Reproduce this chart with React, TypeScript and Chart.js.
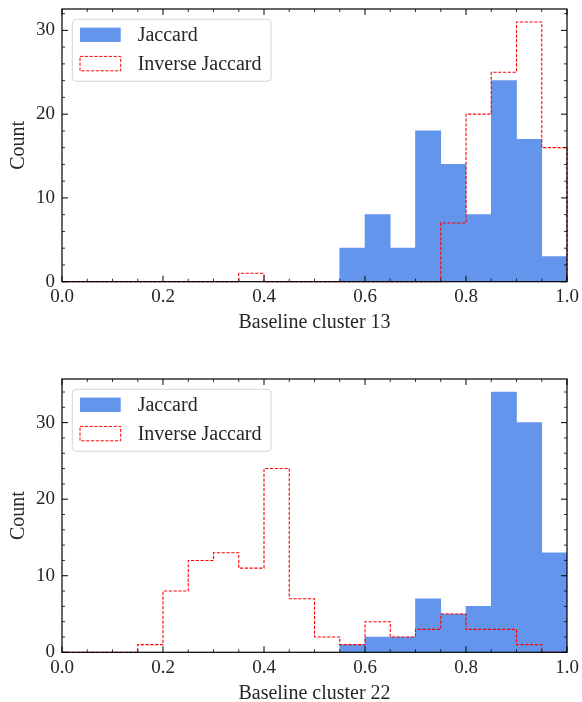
import React, { useEffect, useRef } from "react";
import { Chart, registerables } from "chart.js";

Chart.register(...registerables);

// Histogram bin edges (20 bins of width 0.05 on [0, 1])
const binEdges = [
  0.0, 0.05, 0.1, 0.15, 0.2, 0.25, 0.3, 0.35, 0.4, 0.45, 0.5,
  0.55, 0.6, 0.65, 0.7, 0.75, 0.8, 0.85, 0.9, 0.95, 1.0,
];

// Counts per bin, baseline cluster 13
const cluster13Jaccard = [0, 0, 0, 0, 0, 0, 0, 0, 0, 0, 0, 4, 8, 4, 18, 14, 8, 24, 17, 3];
const cluster13Inverse = [0, 0, 0, 0, 0, 0, 0, 1, 0, 0, 0, 0, 0, 0, 0, 7, 20, 25, 31, 16];

// Counts per bin, baseline cluster 22
const cluster22Jaccard = [0, 0, 0, 0, 0, 0, 0, 0, 0, 0, 0, 1, 2, 2, 7, 5, 6, 34, 30, 13];
const cluster22Inverse = [0, 0, 0, 1, 8, 12, 13, 11, 24, 7, 2, 1, 4, 2, 3, 5, 3, 3, 1, 0];

const seriesLabels = ["Jaccard", "Inverse Jaccard"];
const xTickStep = 0.2;
const yTickStep = 10;

const FONT = "'Liberation Serif', 'Times New Roman', serif";
const TEXT = "#262626";
const BLUE = "#6495ED";
const RED = "#ff0000";
const DASH = [3.2, 1.6];
const W = 582;
const H = 351;

// Bars sit at bin centres; the outline is a stepped line through the bin edges.
function barPoints(counts: number[]) {
  return counts.map((c, i) => ({ x: (binEdges[i] + binEdges[i + 1]) / 2, y: c }));
}
function stepPoints(counts: number[]) {
  const pts = [{ x: binEdges[0], y: 0 }];
  counts.forEach((c, i) => pts.push({ x: binEdges[i], y: c }));
  const last = binEdges[binEdges.length - 1];
  pts.push({ x: last, y: counts[counts.length - 1] });
  pts.push({ x: last, y: 0 });
  return pts;
}

// Inward ticks on all four sides, the box frame and the framed legend.
const framePlugin = {
  id: "frame",
  afterDatasetsDraw(chart: any) {
    const { ctx, chartArea: a, scales } = chart;
    const xs = scales.x;
    const ys = scales.y;
    ctx.save();
    ctx.strokeStyle = "#000";
    const seg = (x1: number, y1: number, x2: number, y2: number, w: number) => {
      ctx.lineWidth = w;
      ctx.beginPath();
      ctx.moveTo(x1, y1);
      ctx.lineTo(x2, y2);
      ctx.stroke();
    };
    for (let i = 0; i <= 20; i++) {
      const v = i * 0.05;
      const major = i % 4 === 0;
      const len = major ? 6 : 3;
      const px = xs.getPixelForValue(v);
      seg(px, a.bottom, px, a.bottom - len, major ? 1 : 0.8);
      seg(px, a.top, px, a.top + len, major ? 1 : 0.8);
    }
    for (let i = 0; i * 2 <= ys.max; i++) {
      const v = i * 2;
      const major = v % 10 === 0;
      const len = major ? 6 : 3;
      const py = ys.getPixelForValue(v);
      seg(a.left, py, a.left + len, py, major ? 1 : 0.8);
      seg(a.right, py, a.right - len, py, major ? 1 : 0.8);
    }
    ctx.lineWidth = 1.2;
    ctx.strokeRect(a.left, a.top, a.right - a.left, a.bottom - a.top);
    ctx.restore();
  },
  afterDraw(chart: any) {
    const { ctx, chartArea: a } = chart;
    const ds = chart.data.datasets;
    const bx = a.left + 10.3;
    const by = a.top + 10.3;
    ctx.save();
    ctx.beginPath();
    ctx.roundRect(bx, by, 198.7, 62, 4);
    ctx.fillStyle = "rgba(255,255,255,0.85)";
    ctx.fill();
    ctx.strokeStyle = "#d6d6d6";
    ctx.lineWidth = 1;
    ctx.stroke();

    const px = a.left + 18;
    const pw = 40.7;
    const ph = 14.4;
    const rows = [by + 15.5, by + 44.3];
    // filled patch
    ctx.fillStyle = ds[0].backgroundColor;
    ctx.fillRect(px, rows[0] - ph / 2, pw, ph);
    // dashed outline patch
    ctx.strokeStyle = ds[1].borderColor;
    ctx.lineWidth = 1;
    ctx.setLineDash(DASH);
    ctx.strokeRect(px, rows[1] - ph / 2, pw, ph);
    ctx.setLineDash([]);

    ctx.fillStyle = TEXT;
    ctx.font = `20px ${FONT}`;
    ctx.textBaseline = "middle";
    ctx.textAlign = "left";
    ctx.fillText(ds[0].label, a.left + 75.7, rows[0] + 0.8);
    ctx.fillText(ds[1].label, a.left + 75.7, rows[1] + 0.8);
    ctx.restore();
  },
};

type HistProps = {
  top: number;
  jaccard: number[];
  inverse: number[];
  xTitle: string;
  padTop: number;
  xAxisHeight: number;
  xTitlePad: number;
};

function Histogram({ top, jaccard, inverse, xTitle, padTop, xAxisHeight, xTitlePad }: HistProps) {
  const ref = useRef<HTMLCanvasElement>(null);

  useEffect(() => {
    const yMax = Math.max(...jaccard, ...inverse) * 1.05;
    const chart = new Chart(ref.current as HTMLCanvasElement, {
      type: "bar",
      data: {
        datasets: [
          {
            type: "bar",
            label: seriesLabels[0],
            data: barPoints(jaccard),
            backgroundColor: BLUE,
            borderWidth: 0,
            barPercentage: 1,
            categoryPercentage: 1,
            order: 2,
          } as any,
          {
            type: "line",
            label: seriesLabels[1],
            data: stepPoints(inverse),
            borderColor: RED,
            borderWidth: 1.1,
            borderDash: DASH,
            stepped: "before",
            pointRadius: 0,
            fill: false,
            clip: false,
            order: 1,
          } as any,
        ],
      },
      options: {
        responsive: false,
        maintainAspectRatio: false,
        devicePixelRatio: 1,
        animation: false,
        events: [],
        layout: { padding: { top: padTop, right: 15, bottom: 0, left: 0 } },
        plugins: { legend: { display: false }, tooltip: { enabled: false } },
        scales: {
          x: {
            type: "linear",
            min: 0,
            max: 1,
            offset: false,
            grid: { display: false, drawTicks: false },
            border: { display: false },
            ticks: {
              stepSize: xTickStep,
              padding: 4,
              color: TEXT,
              font: { family: FONT, size: 19, lineHeight: 1.2 },
              maxRotation: 0,
              callback: (v: any) => Number(v).toFixed(1),
            },
            title: {
              display: true,
              text: xTitle,
              color: TEXT,
              font: { family: FONT, size: 20, lineHeight: 0.8 },
              padding: { top: 0, bottom: xTitlePad },
            },
            afterFit: (s: any) => {
              s.height = xAxisHeight;
              s.paddingLeft = 0;
              s.paddingRight = 0;
            },
          },
          y: {
            type: "linear",
            min: 0,
            max: yMax,
            grid: { display: false, drawTicks: false },
            border: { display: false },
            ticks: {
              stepSize: yTickStep,
              includeBounds: false,
              padding: 7,
              color: TEXT,
              font: { family: FONT, size: 19, lineHeight: 1.2 },
              callback: (v: any) => String(v),
            },
            title: {
              display: true,
              text: "Count",
              color: TEXT,
              font: { family: FONT, size: 20, lineHeight: 0.8 },
              padding: { top: 10.3, bottom: 0 },
            },
            afterFit: (s: any) => {
              s.width = 62;
              s.paddingTop = 0;
              s.paddingBottom = 0;
            },
          },
        },
      } as any,
      plugins: [framePlugin],
    });
    return () => chart.destroy();
  }, []);

  return (
    <canvas
      ref={ref}
      width={W}
      height={H}
      style={{ position: "absolute", left: 0, top, width: W, height: H, display: "block" }}
    />
  );
}

export default function App() {
  return (
    <div style={{ position: "absolute", left: 0, top: 0, width: W, height: 702, background: "#fff" }}>
      <Histogram
        top={0}
        jaccard={cluster13Jaccard}
        inverse={cluster13Inverse}
        xTitle="Baseline cluster 13"
        padTop={9}
        xAxisHeight={69.3}
        xTitlePad={20.4}
      />
      <Histogram
        top={351}
        jaccard={cluster22Jaccard}
        inverse={cluster22Inverse}
        xTitle="Baseline cluster 22"
        padTop={28}
        xAxisHeight={49.7}
        xTitlePad={0.5}
      />
    </div>
  );
}
